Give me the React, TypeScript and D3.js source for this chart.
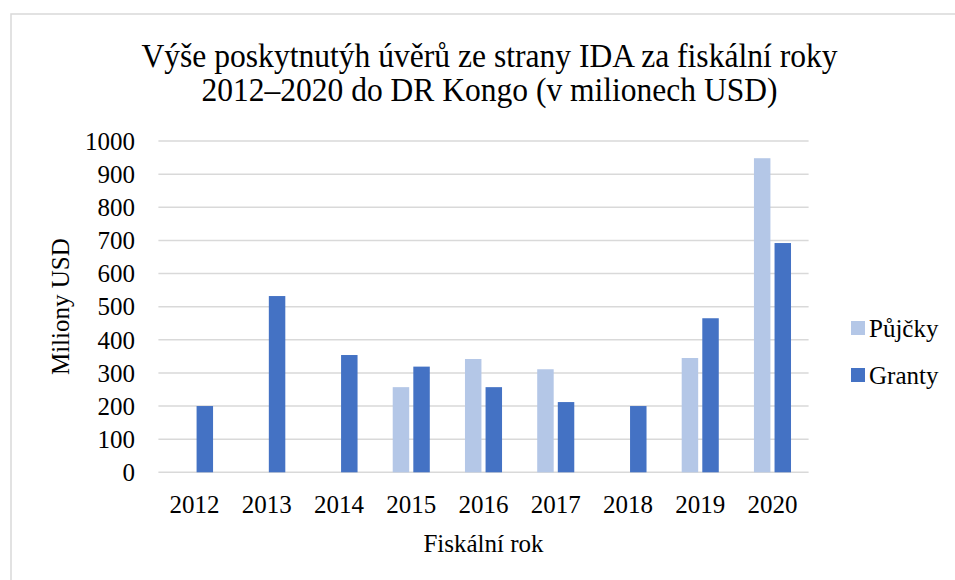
import React, { useEffect, useRef } from 'react';
import * as d3 from 'd3';

const years = ['2012', '2013', '2014', '2015', '2016', '2017', '2018', '2019', '2020'];
const pujcky: (number | null)[] = [null, null, null, 257, 342, 311, null, 345, 948];
const granty: (number | null)[] = [200, 532, 354, 319, 257, 212, 200, 465, 692];
const seriesNames = ['Půjčky', 'Granty'];
const seriesColors = ['#b4c7e7', '#4472c4'];
const yTicks = [0, 100, 200, 300, 400, 500, 600, 700, 800, 900, 1000];

const titleLines = [
  'Výše poskytnutýh úvěrů ze strany IDA za fiskální roky',
  '2012–2020 do DR Kongo (v milionech USD)',
];
// widths of the (slightly condensed) title lines in the reference
const titleWidths = [696, 576];

const W = 955;
const H = 580;
const FONT = '"Liberation Serif", "Times New Roman", serif';

const App: React.FC = () => {
  const svgRef = useRef<SVGSVGElement>(null);

  useEffect(() => {
    if (!svgRef.current) return;
    const svg = d3.select(svgRef.current);
    svg.selectAll('*').remove();

    const left = 158.4;
    const right = 808.6;
    const top = 141;
    const bottom = 472.3;

    // chart frame
    svg.append('rect')
      .attr('x', 11).attr('y', 14)
      .attr('width', W + 20).attr('height', H + 20)
      .attr('fill', '#fff')
      .attr('stroke', '#d9d9d9')
      .attr('stroke-width', 1.5);

    const x0 = d3.scaleBand<string>().domain(years).range([left, right]).padding(0);
    const x1 = d3.scaleBand<string>().domain(seriesNames).range([0, x0.bandwidth()])
      .paddingInner(0.2).paddingOuter(0.854);
    const y = d3.scaleLinear().domain([0, 1000]).range([bottom, top]);

    // gridlines
    svg.append('g')
      .selectAll('line')
      .data(yTicks)
      .join('line')
      .attr('x1', left).attr('x2', right)
      .attr('y1', d => y(d)).attr('y2', d => y(d))
      .attr('stroke', '#d9d9d9')
      .attr('stroke-width', 1.5);

    // y tick labels
    svg.append('g')
      .selectAll('text')
      .data(yTicks)
      .join('text')
      .attr('x', 135)
      .attr('y', d => y(d))
      .attr('dy', '0.35em')
      .attr('text-anchor', 'end')
      .attr('font-family', FONT)
      .attr('font-size', 25)
      .attr('fill', '#000')
      .text(d => d);

    // bars
    const series = [pujcky, granty];
    series.forEach((vals, si) => {
      svg.append('g')
        .selectAll('rect')
        .data(years.map((yr, i) => ({ yr, v: vals[i] })).filter(d => d.v !== null))
        .join('rect')
        .attr('x', d => (x0(d.yr) as number) + (x1(seriesNames[si]) as number))
        .attr('width', x1.bandwidth())
        .attr('y', d => y(d.v as number))
        .attr('height', d => bottom - y(d.v as number))
        .attr('fill', seriesColors[si]);
    });

    // x tick labels
    svg.append('g')
      .selectAll('text')
      .data(years)
      .join('text')
      .attr('x', d => (x0(d) as number) + x0.bandwidth() / 2)
      .attr('y', 504.5)
      .attr('dy', '0.35em')
      .attr('text-anchor', 'middle')
      .attr('font-family', FONT)
      .attr('font-size', 25)
      .text(d => d);

    // axis titles
    svg.append('text')
      .attr('x', (left + right) / 2)
      .attr('y', 543)
      .attr('dy', '0.35em')
      .attr('text-anchor', 'middle')
      .attr('font-family', FONT)
      .attr('font-size', 25)
      .text('Fiskální rok');

    svg.append('text')
      .attr('transform', `translate(60, ${(top + bottom) / 2}) rotate(-90)`)
      .attr('dy', '0.35em')
      .attr('text-anchor', 'middle')
      .attr('font-family', FONT)
      .attr('font-size', 25)
      .text('Miliony USD');

    // title
    svg.append('g')
      .selectAll('text')
      .data(titleLines)
      .join('text')
      .attr('x', 489.5)
      .attr('y', (d, i) => 67.3 + i * 33.4)
      .attr('text-anchor', 'middle')
      .attr('font-family', FONT)
      .attr('font-size', 34)
      .attr('textLength', (d, i) => titleWidths[i])
      .attr('lengthAdjust', 'spacingAndGlyphs')
      .text(d => d);

    // legend
    const legend = svg.append('g')
      .selectAll('g')
      .data(seriesNames)
      .join('g')
      .attr('transform', (d, i) => `translate(851, ${328 + i * 47})`);
    legend.append('rect')
      .attr('x', 0).attr('y', -7)
      .attr('width', 14).attr('height', 14)
      .attr('fill', (d, i) => seriesColors[i]);
    legend.append('text')
      .attr('x', 18)
      .attr('dy', '0.35em')
      .attr('font-family', FONT)
      .attr('font-size', 25)
      .text(d => d);
  }, []);

  return (
    <svg
      ref={svgRef}
      width={W}
      height={H}
      style={{ position: 'absolute', left: 0, top: 0, background: '#fff' }}
    />
  );
};

export default App;
